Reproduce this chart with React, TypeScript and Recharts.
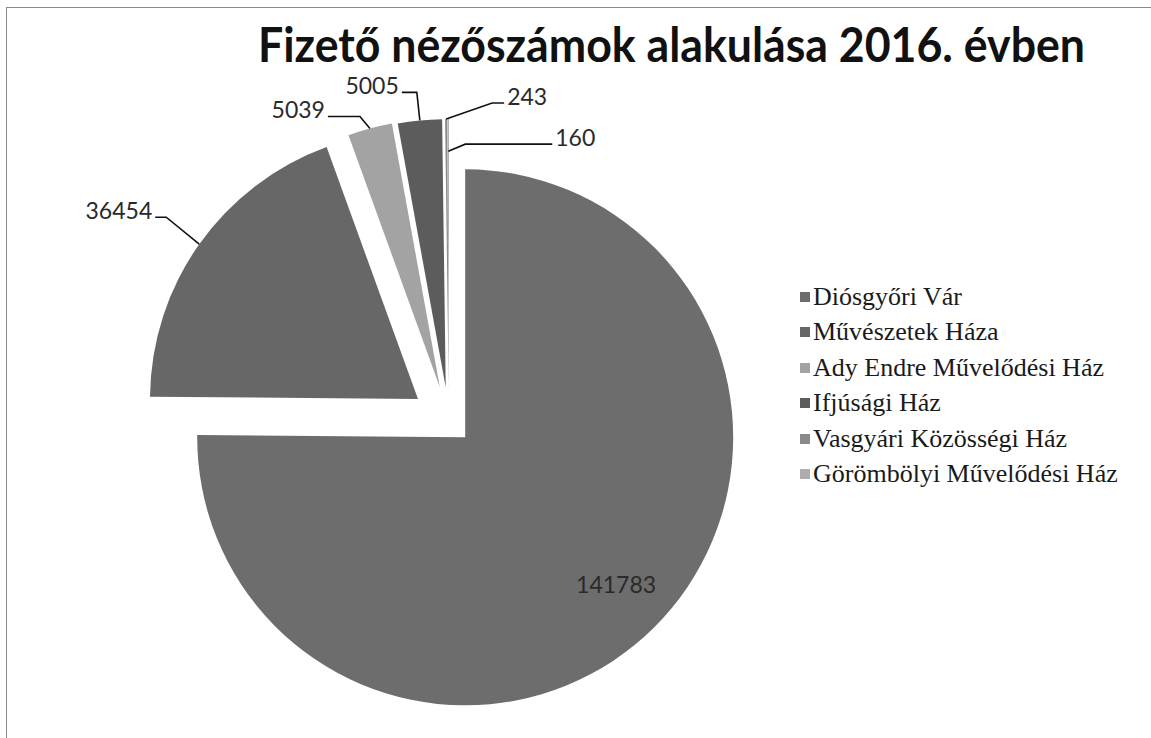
import { PieChart, Pie, Cell, Sector } from "recharts";

const TITLE = "Fizető nézőszámok alakulása 2016. évben";
const categories = [
  "Diósgyőri Vár",
  "Művészetek Háza",
  "Ady Endre Művelődési Ház",
  "Ifjúsági Ház",
  "Vasgyári Közösségi Ház",
  "Görömbölyi Művelődési Ház",
];
const values = [141783, 36454, 5039, 5005, 243, 160];

// grays of the scanned print
const fills = ["#6d6d6d", "#676767", "#a3a3a3", "#5c5c5c", "#8a8a8a", "#adadad"];
// how far each slice is pulled out of the pie
const explode = [23, 38, 35, 34, 34, 34];
// leader line: [anchor radius factor, elbow dx, elbow dy, horizontal run]; null = label inside
const leaders: (number[] | null)[] = [
  null,
  [1, -33, -27, -11],
  [1, -10, -12, -32],
  [1, -3, -28, -15],
  [1, 46, -16, 12],
  [0.88, 17, -7, 87],
];

const data = categories.map((name, i) => ({ name, value: values[i], idx: i }));

const RAD = Math.PI / 180;
const idxOf = (p: any): number => p?.payload?.idx ?? p?.idx ?? p?.index ?? 0;
const shift = (mid: number, d: number) => ({
  dx: d * Math.cos(-mid * RAD),
  dy: d * Math.sin(-mid * RAD),
});

const labelFont = { fontFamily: "Lato", fontSize: 23, fill: "#2a2a2a" };

function ExplodedSector(props: any) {
  const { dx, dy } = shift(props.midAngle, explode[idxOf(props)]);
  return <Sector {...props} cx={props.cx + dx} cy={props.cy + dy} />;
}

function renderLabel(props: any) {
  const i = idxOf(props);
  const mid = props.midAngle;
  const { dx, dy } = shift(mid, explode[i]);
  const cx = props.cx + dx;
  const cy = props.cy + dy;
  const r = props.outerRadius;
  const cos = Math.cos(-mid * RAD);
  const sin = Math.sin(-mid * RAD);
  const L = leaders[i];
  if (!L) {
    return (
      <text x={cx + r * 0.8 * cos} y={cy + r * 0.77 * sin} textAnchor="middle" dominantBaseline="central" {...labelFont}>
        {values[i]}
      </text>
    );
  }
  const ax = cx + r * L[0] * cos;
  const ay = cy + r * L[0] * sin;
  const ex = ax + L[1];
  const ey = ay + L[2];
  const px = ex + L[3];
  const left = L[3] < 0;
  return (
    <g>
      <polyline points={`${ax},${ay} ${ex},${ey} ${px},${ey}`} fill="none" stroke="#111" strokeWidth={1.6} />
      <text x={px + (left ? -3 : 3)} y={ey + 2} textAnchor={left ? "end" : "start"} {...labelFont}>
        {values[i]}
      </text>
    </g>
  );
}

export default function App() {
  return (
    <div style={{ position: "absolute", left: 0, top: 0, width: 1151, height: 738, background: "#fff", overflow: "hidden" }}>
      <div style={{ position: "absolute", left: 6, top: 7, width: 1200, height: 800, borderLeft: "1px solid #8a8a8a", borderTop: "1px solid #8a8a8a" }} />
      <svg width={1151} height={80} style={{ position: "absolute", left: 0, top: 0 }}>
        <text x={258} y={62} textLength={827} lengthAdjust="spacingAndGlyphs" fontFamily="Lato" fontWeight={700} fontSize={47} fill="#111">
          {TITLE}
        </text>
      </svg>
      <div style={{ position: "absolute", left: 0, top: 0 }}>
        <PieChart width={1151} height={738} margin={{ top: 0, right: 0, bottom: 0, left: 0 }}>
          <Pie
            data={data}
            dataKey="value"
            nameKey="name"
            cx={449}
            cy={421}
            outerRadius={268}
            startAngle={90}
            endAngle={-270}
            stroke="none"
            isAnimationActive={false}
            shape={ExplodedSector}
            label={renderLabel}
            labelLine={false}
          >
            {data.map((d, i) => (
              <Cell key={d.name} fill={fills[i]} />
            ))}
          </Pie>
        </PieChart>
      </div>
      <div style={{ position: "absolute", left: 800, top: 279 }}>
        {categories.map((c, i) => (
          <div
            key={c}
            style={{ display: "flex", alignItems: "center", height: 35.5, whiteSpace: "nowrap", fontFamily: "Liberation Serif", fontSize: 26, color: "#1a1a1a" }}
          >
            <span style={{ width: 10, height: 10, background: fills[i], marginRight: 3, flex: "none" }} />
            {c}
          </div>
        ))}
      </div>
    </div>
  );
}
